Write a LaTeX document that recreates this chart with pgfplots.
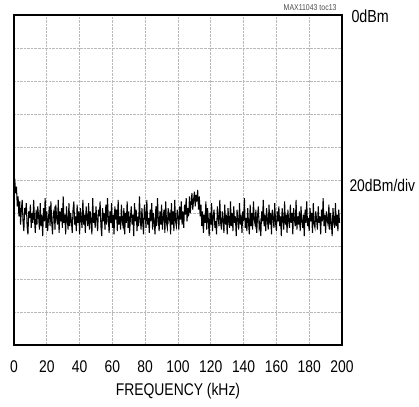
\documentclass[border=0pt]{standalone}
\usepackage{pgfplots}
\pgfplotsset{compat=1.18}
\usepackage{fontspec}
\setmainfont{Liberation Sans}[FakeStretch=0.82]
\begin{document}
\begin{tikzpicture}
\path[use as bounding box] (-14bp,-62bp) rectangle (405bp,345bp);
\begin{axis}[
  at={(0,0)}, anchor=south west,
  scale only axis, width=328bp, height=330bp,
  xmin=0, xmax=200, ymin=-200, ymax=0,
  xtick={0,20,...,200}, ytick={-180,-160,...,-20},
  yticklabels={},
  major tick length=0pt,
  grid=major,
  major grid style={gray!55, densely dotted, line width=0.7pt},
  axis line style={line width=2.8pt},
  tick label style={font=\fontsize{17}{19}\selectfont, /pgf/number format/assume math mode=true},
  xticklabel style={yshift=-12bp},
  xlabel={FREQUENCY (kHz)},
  xlabel style={font=\fontsize{17}{19}\selectfont, yshift=-4bp},
  clip=true,
]
\addplot[black, line width=1.05pt, line join=miter] coordinates {
(0,-97) (0.5,-100) (1,-108) (1.5,-104) (2,-116) (2.5,-110) (3,-122) (3.5,-113) (4,-127) (4.5,-118)
(5,-112) (5.5,-125) (6,-131) (6.5,-117) (7,-121) (7.5,-114) (8,-128) (8.5,-133) (9,-119) (9.5,-123)
(10,-115) (10.5,-129) (11,-120) (11.5,-126) (12,-112) (12.5,-124) (13,-132) (13.5,-118) (14,-127) (14.5,-116)
(15,-122) (15.5,-130) (16,-114) (16.5,-128) (17,-121) (17.5,-134) (18,-117) (18.5,-125) (19,-111) (19.5,-129)
(20,-119) (20.5,-131) (21,-124) (21.5,-116) (22,-128) (22.5,-113) (23,-126) (23.5,-133) (24,-120) (24.5,-118)
(25,-130) (25.5,-115) (26,-123) (26.5,-127) (27,-112) (27.5,-132) (28,-119) (28.5,-125) (29,-117) (29.5,-129)
(30,-110) (30.5,-126) (31,-121) (31.5,-133) (32,-116) (32.5,-124) (33,-130) (33.5,-114) (34,-128) (34.5,-120)
(35,-125) (35.5,-132) (36,-118) (36.5,-113) (37,-127) (37.5,-122) (38,-131) (38.5,-115) (39,-126) (39.5,-119)
(40,-133) (40.5,-117) (41,-124) (41.5,-129) (42,-112) (42.5,-127) (43,-121) (43.5,-132) (44,-116) (44.5,-123)
(45,-128) (45.5,-114) (46,-130) (46.5,-119) (47,-125) (47.5,-133) (48,-111) (48.5,-126) (49,-120) (49.5,-129)
(50,-116) (50.5,-124) (51,-131) (51.5,-118) (52,-122) (52.5,-113) (53,-128) (53.5,-134) (54,-117) (54.5,-125)
(55,-120) (55.5,-130) (56,-115) (56.5,-127) (57,-111) (57.5,-123) (58,-132) (58.5,-119) (59,-126) (59.5,-114)
(60,-129) (60.5,-121) (61,-133) (61.5,-116) (62,-124) (62.5,-118) (63,-131) (63.5,-112) (64,-127) (64.5,-122)
(65,-130) (65.5,-115) (66,-125) (66.5,-128) (67,-117) (67.5,-133) (68,-120) (68.5,-126) (69,-113) (69.5,-129)
(70,-119) (70.5,-132) (71,-123) (71.5,-116) (72,-127) (72.5,-121) (73,-134) (73.5,-114) (74,-125) (74.5,-118)
(75,-131) (75.5,-122) (76,-128) (76.5,-110) (77,-124) (77.5,-130) (78,-117) (78.5,-126) (79,-133) (79.5,-115)
(80,-121) (80.5,-129) (81,-112) (81.5,-127) (82,-123) (82.5,-132) (83,-118) (83.5,-125) (84,-114) (84.5,-130)
(85,-120) (85.5,-126) (86,-133) (86.5,-116) (87,-128) (87.5,-111) (88,-124) (88.5,-131) (89,-119) (89.5,-127)
(90,-115) (90.5,-130) (91,-122) (91.5,-118) (92,-132) (92.5,-113) (93,-126) (93.5,-129) (94,-117) (94.5,-124)
(95,-121) (95.5,-133) (96,-114) (96.5,-127) (97,-119) (97.5,-131) (98,-112) (98.5,-125) (99,-128) (99.5,-118)
(100,-122) (100.5,-130) (101,-116) (101.5,-124) (102,-113) (102.5,-127) (103,-119) (103.5,-129) (104,-115) (104.5,-121)
(105,-111) (105.5,-125) (106,-117) (106.5,-122) (107,-110) (107.5,-120) (108,-114) (108.5,-108) (109,-118) (109.5,-112)
(110,-107) (110.5,-116) (111,-109) (111.5,-113) (112,-106) (112.5,-118) (113,-110) (113.5,-122) (114,-115) (114.5,-128)
(115,-119) (115.5,-132) (116,-121) (116.5,-126) (117,-113) (117.5,-130) (118,-117) (118.5,-124) (119,-134) (119.5,-120)
(120,-127) (120.5,-114) (121,-131) (121.5,-122) (122,-118) (122.5,-129) (123,-125) (123.5,-133) (124,-116) (124.5,-123)
(125,-128) (125.5,-112) (126,-126) (126.5,-130) (127,-119) (127.5,-124) (128,-132) (128.5,-115) (129,-127) (129.5,-121)
(130,-133) (130.5,-117) (131,-125) (131.5,-129) (132,-113) (132.5,-128) (133,-120) (133.5,-131) (134,-116) (134.5,-126)
(135,-122) (135.5,-134) (136,-118) (136.5,-124) (137,-130) (137.5,-114) (138,-127) (138.5,-121) (139,-132) (139.5,-119)
(140,-125) (140.5,-111) (141,-129) (141.5,-123) (142,-131) (142.5,-117) (143,-126) (143.5,-133) (144,-115) (144.5,-128)
(145,-120) (145.5,-130) (146,-113) (146.5,-124) (147,-127) (147.5,-118) (148,-132) (148.5,-122) (149,-116) (149.5,-129)
(150,-126) (150.5,-134) (151,-119) (151.5,-125) (152,-112) (152.5,-128) (153,-121) (153.5,-131) (154,-117) (154.5,-124)
(155,-130) (155.5,-115) (156,-127) (156.5,-120) (157,-133) (157.5,-118) (158,-123) (158.5,-129) (159,-114) (159.5,-126)
(160,-131) (160.5,-119) (161,-125) (161.5,-116) (162,-128) (162.5,-122) (163,-134) (163.5,-117) (164,-124) (164.5,-130)
(165,-113) (165.5,-127) (166,-121) (166.5,-132) (167,-118) (167.5,-125) (168,-129) (168.5,-115) (169,-126) (169.5,-120)
(170,-133) (170.5,-117) (171,-124) (171.5,-128) (172,-112) (172.5,-130) (173,-122) (173.5,-127) (174,-119) (174.5,-131)
(175,-116) (175.5,-125) (176,-129) (176.5,-121) (177,-134) (177.5,-118) (178,-126) (178.5,-113) (179,-128) (179.5,-123)
(180,-131) (180.5,-117) (181,-125) (181.5,-120) (182,-132) (182.5,-114) (183,-127) (183.5,-129) (184,-119) (184.5,-124)
(185,-130) (185.5,-116) (186,-126) (186.5,-122) (187,-133) (187.5,-118) (188,-125) (188.5,-111) (189,-128) (189.5,-121)
(190,-132) (190.5,-119) (191,-124) (191.5,-127) (192,-115) (192.5,-130) (193,-120) (193.5,-126) (194,-134) (194.5,-117)
(195,-125) (195.5,-129) (196,-114) (196.5,-128) (197,-121) (197.5,-131) (198,-118) (198.5,-126)
};
\end{axis}
\node[anchor=base east, font=\fontsize{8.5}{10}\selectfont, gray!60!black] at (326bp,334bp) {MAX11043 toc13};
\node[anchor=base west, font=\fontsize{17.5}{19}\selectfont] at (334bp,322bp) {0dBm};
\node[anchor=base west, font=\fontsize{17}{19}\selectfont] at (332bp,153bp) {20dBm/div};
\end{tikzpicture}
\end{document}
